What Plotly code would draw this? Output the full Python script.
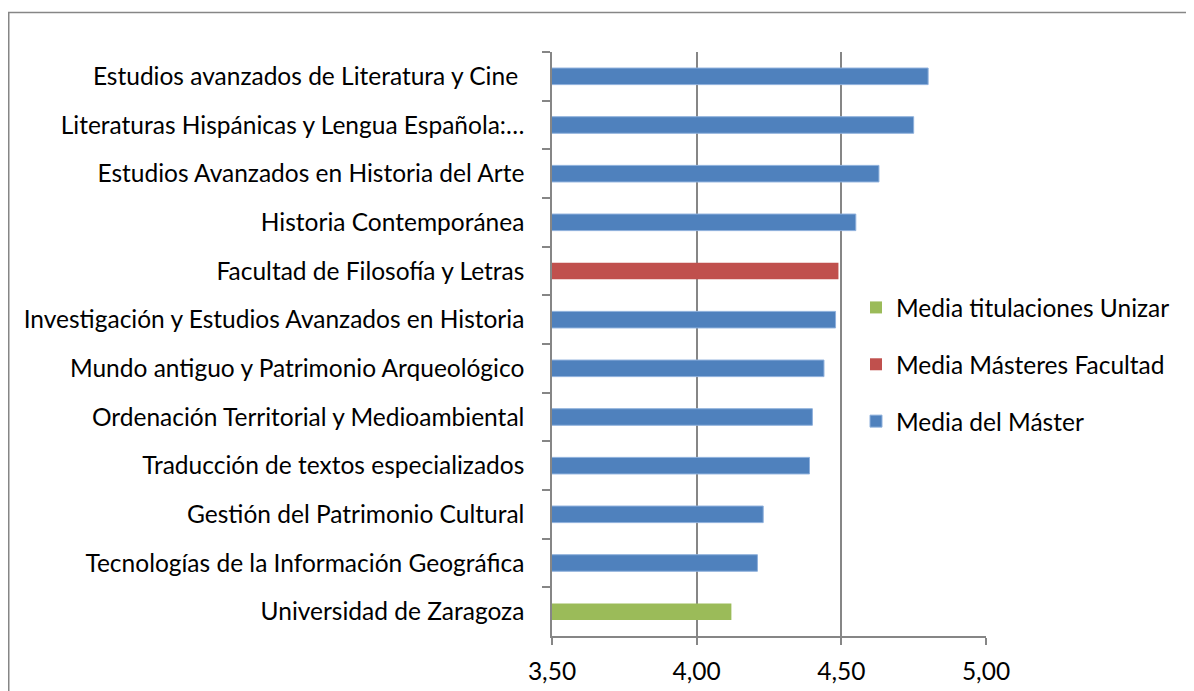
import plotly.graph_objects as go

# Data (top to bottom as shown)
master_cats = [
    "Estudios avanzados de Literatura y Cine ",
    "Literaturas Hispánicas y Lengua Española:…",
    "Estudios Avanzados en Historia del Arte",
    "Historia Contemporánea",
    "Investigación y Estudios Avanzados en Historia",
    "Mundo antiguo y Patrimonio Arqueológico",
    "Ordenación Territorial y Medioambiental",
    "Traducción de textos especializados",
    "Gestión del Patrimonio Cultural",
    "Tecnologías de la Información Geográfica",
]
master_vals = [4.80, 4.75, 4.63, 4.55, 4.48, 4.44, 4.40, 4.39, 4.23, 4.21]

facultad_cats = ["Facultad de Filosofía y Letras"]
facultad_vals = [4.49]

unizar_cats = ["Universidad de Zaragoza"]
unizar_vals = [4.12]

category_order = [
    "Estudios avanzados de Literatura y Cine ",
    "Literaturas Hispánicas y Lengua Española:…",
    "Estudios Avanzados en Historia del Arte",
    "Historia Contemporánea",
    "Facultad de Filosofía y Letras",
    "Investigación y Estudios Avanzados en Historia",
    "Mundo antiguo y Patrimonio Arqueológico",
    "Ordenación Territorial y Medioambiental",
    "Traducción de textos especializados",
    "Gestión del Patrimonio Cultural",
    "Tecnologías de la Información Geográfica",
    "Universidad de Zaragoza",
]

x_ticks = [3.5, 4.0, 4.5, 5.0]

FONT = "Lato"
FS = 24.5
GRID = "#868686"
BW = 0.34

fig = go.Figure()
fig.add_trace(go.Bar(
    y=unizar_cats, x=unizar_vals, orientation="h",
    name="Media titulaciones Unizar", legendgroup="g1",
    marker=dict(color="#9BBB59", line=dict(width=0)), width=BW,
))
fig.add_trace(go.Bar(
    y=facultad_cats, x=facultad_vals, orientation="h",
    name="Media Másteres Facultad", legendgroup="g2",
    marker=dict(color="#C0504D", line=dict(width=0)), width=BW,
))
fig.add_trace(go.Bar(
    y=master_cats, x=master_vals, orientation="h",
    name="Media del Máster", legendgroup="g3",
    marker=dict(color="#4F81BD", line=dict(color="#8EB0DC", width=1)), width=BW,
))

# page offset (body margin) compensation
OX, OY = 8, 8
W, H = 1194 - OX, 691 - OY
L, T = 552 - OX, 52 - OY
R = (1194 - OX) - (986 - OX)
B = (691 - OY) - (636 - OY)
pw = W - L - R
ph = H - T - B

def px_x(x):
    return (x - OX - L) / pw

def px_y(y):
    return 1 - (y - OY - T) / ph

fig.update_layout(
    width=W, height=H,
    margin=dict(l=L, r=R, t=T, b=B, pad=0, autoexpand=False),
    paper_bgcolor="white", plot_bgcolor="white",
    barmode="overlay",
    separators=", ",
    font=dict(family=FONT, size=FS, color="black"),
    showlegend=True,
    legend=dict(
        x=px_x(856), y=px_y(285), xanchor="left", yanchor="top",
        bgcolor="rgba(0,0,0,0)", traceorder="grouped", tracegroupgap=22,
        font=dict(family=FONT, size=FS, color="black"),
        itemwidth=30,
    ),
    shapes=[dict(
        type="rect", xref="paper", yref="paper",
        x0=(0.75 - L) / pw, x1=px_x(1300),
        y0=px_y(800), y1=px_y(12.5),
        line=dict(color=GRID, width=1.5), fillcolor="rgba(0,0,0,0)", layer="below",
    )],
)

fig.update_xaxes(
    range=[3.5, 5.0], tickvals=x_ticks, tickformat=".2f",
    showgrid=True, gridcolor=GRID, gridwidth=1.5,
    showline=True, linecolor=GRID, linewidth=1.5,
    ticks="outside", ticklen=7, tickcolor=GRID, tickwidth=1.5,
    ticklabelstandoff=6, zeroline=False, automargin=False,
    tickfont=dict(family=FONT, size=FS, color="black"),
)
fig.update_yaxes(
    categoryorder="array", categoryarray=category_order, autorange="reversed",
    showline=True, linecolor=GRID, linewidth=1.5,
    ticks="outside", ticklen=8, tickcolor=GRID, tickwidth=1.5, tickson="boundaries",
    showgrid=False, ticklabelstandoff=21, automargin=False,
    tickfont=dict(family=FONT, size=FS, color="black"),
)

fig.write_html("out.html")
